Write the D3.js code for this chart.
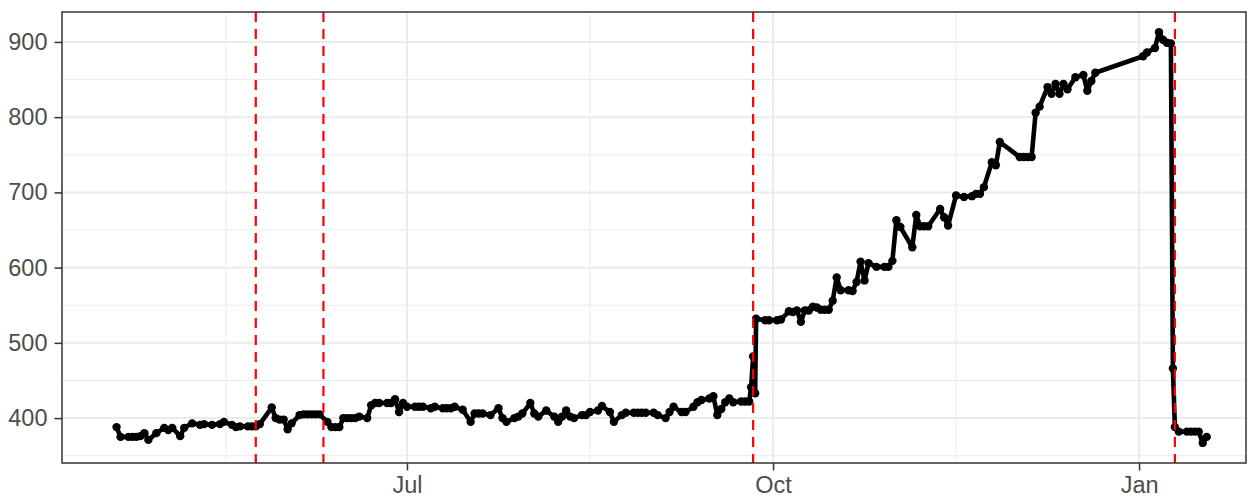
<!DOCTYPE html>
<html>
<head>
<meta charset="utf-8">
<script src="https://cdn.jsdelivr.net/npm/d3@7"></script>
<style>
  html, body { margin: 0; padding: 0; background: #ffffff; }
  svg { display: block; }
  text { font-family: "Liberation Sans", Arial, Helvetica, sans-serif; }
</style>
</head>
<body>
<svg id="chart" width="1258" height="501"></svg>
<script>
// ---- data ----
const dates = [
  "2019-04-19","2019-04-20","2019-04-22","2019-04-23","2019-04-24","2019-04-25","2019-04-26","2019-04-27","2019-04-29",
  "2019-05-01","2019-05-02","2019-05-03","2019-05-05","2019-05-06","2019-05-08","2019-05-10","2019-05-11","2019-05-13",
  "2019-05-15","2019-05-16","2019-05-18","2019-05-19","2019-05-20","2019-05-22","2019-05-23","2019-05-24","2019-05-25",
  "2019-05-28","2019-05-29","2019-05-30","2019-05-31","2019-06-01","2019-06-02","2019-06-04","2019-06-05","2019-06-06",
  "2019-06-07","2019-06-08","2019-06-09","2019-06-11","2019-06-12","2019-06-13","2019-06-14","2019-06-15","2019-06-16",
  "2019-06-17","2019-06-18","2019-06-19","2019-06-21","2019-06-22","2019-06-23","2019-06-24","2019-06-26","2019-06-27",
  "2019-06-28","2019-06-29","2019-06-30","2019-07-01","2019-07-03","2019-07-04","2019-07-05","2019-07-07","2019-07-08",
  "2019-07-10","2019-07-11","2019-07-12","2019-07-13","2019-07-15","2019-07-17","2019-07-18","2019-07-19","2019-07-20",
  "2019-07-22","2019-07-24","2019-07-25","2019-07-26","2019-07-28","2019-07-29","2019-07-30","2019-08-01","2019-08-02",
  "2019-08-03","2019-08-05","2019-08-07","2019-08-08","2019-08-09","2019-08-10","2019-08-11","2019-08-12","2019-08-14",
  "2019-08-15","2019-08-16","2019-08-18","2019-08-19","2019-08-21","2019-08-22","2019-08-24","2019-08-25","2019-08-27",
  "2019-08-28","2019-08-29","2019-08-30","2019-09-01","2019-09-02","2019-09-04","2019-09-05","2019-09-06","2019-09-08",
  "2019-09-09","2019-09-11","2019-09-12","2019-09-13","2019-09-15","2019-09-16","2019-09-17","2019-09-18","2019-09-19",
  "2019-09-20","2019-09-21","2019-09-23","2019-09-24","2019-09-25","2019-09-25T12:00","2019-09-26","2019-09-26T12:00",
  "2019-09-26T18:00","2019-09-29","2019-09-30","2019-10-02","2019-10-03","2019-10-05","2019-10-06","2019-10-07","2019-10-08",
  "2019-10-09","2019-10-10","2019-10-11","2019-10-12","2019-10-13","2019-10-14","2019-10-15","2019-10-16","2019-10-17",
  "2019-10-18","2019-10-20","2019-10-21","2019-10-22","2019-10-23","2019-10-24","2019-10-25","2019-10-27","2019-10-29",
  "2019-10-30","2019-10-31","2019-11-01","2019-11-02","2019-11-05","2019-11-06","2019-11-07","2019-11-08","2019-11-09",
  "2019-11-12","2019-11-13","2019-11-14","2019-11-16","2019-11-18","2019-11-20","2019-11-21","2019-11-22","2019-11-23",
  "2019-11-25","2019-11-26","2019-11-27","2019-12-02","2019-12-03","2019-12-04","2019-12-05","2019-12-06","2019-12-07",
  "2019-12-09","2019-12-10","2019-12-11","2019-12-12","2019-12-13","2019-12-14","2019-12-16","2019-12-18","2019-12-19",
  "2019-12-20","2019-12-21","2020-01-02","2020-01-03","2020-01-05","2020-01-06","2020-01-07","2020-01-08","2020-01-09",
  "2020-01-09T12:00","2020-01-10","2020-01-11","2020-01-13","2020-01-14","2020-01-15","2020-01-16","2020-01-17","2020-01-18"
];
const values = [
  388,375,375,375,375,376,380,371,380,
  387,384,387,376,387,393,391,392,391,
  392,395,391,388,389,389,389,389,392,
  414,400,398,398,385,393,404,405,405,
  405,405,405,395,388,388,388,400,400,
  400,400,402,400,417,420,420,420,420,
  425,408,420,415,415,415,415,413,415,
  413,413,413,415,411,395,406,406,406,
  404,413,400,395,400,402,406,420,406,
  402,410,402,395,402,410,402,400,404,
  404,408,410,416,408,395,404,407,407,
  407,407,407,407,404,400,408,415,408,
  408,415,421,424,426,429,404,412,421,
  426,421,422,422,422,441,482,433,
  532,530,530,530,531,542,541,543,528,
  543,543,548,547,544,544,544,556,587,
  570,570,569,581,608,583,606,601,601,
  601,609,663,654,627,670,655,655,655,
  678,667,656,696,694,695,698,698,707,
  740,736,767,747,747,747,747,806,814,
  840,831,844,831,844,837,853,856,835,
  848,859,881,886,892,913,903,899,898,
  466,388,382,382,382,382,382,367,375
];
const eventDates = ["2019-05-24","2019-06-10","2019-09-26","2020-01-10"];
const xTickDates = ["2019-07-01","2019-10-01","2020-01-01"];
const xTickLabels = ["Jul","Oct","Jan"];
const xMinorDates = ["2019-05-16T12:00","2019-08-16","2019-11-16"];
const yTicks = [400,500,600,700,800,900];
const yMinor = [350,450,550,650,750,850];
const xDomainDates = ["2019-04-05T07:00","2020-01-27T21:00"];
const yDomain = [340.3, 939.8];

// ---- setup ----
const pD = d3.utcParse("%Y-%m-%d"), pT = d3.utcParse("%Y-%m-%dT%H:%M");
const parse = s => s.includes("T") ? pT(s) : pD(s);
const data = dates.map((d, i) => ({ date: parse(d), value: values[i] }));

const panel = { left: 62, right: 1246, top: 12, bottom: 463 };
const x = d3.scaleUtc().domain(xDomainDates.map(parse)).range([panel.left, panel.right]);
const y = d3.scaleLinear().domain(yDomain).range([panel.bottom, panel.top]);

const svg = d3.select("#chart");
const grid = "#EBEBEB";

// minor grid
svg.append("g").selectAll("line.ymin").data(yMinor).join("line")
  .attr("x1", panel.left).attr("x2", panel.right)
  .attr("y1", d => y(d)).attr("y2", d => y(d))
  .attr("stroke", grid).attr("stroke-width", 1);
svg.append("g").selectAll("line.xmin").data(xMinorDates.map(parse)).join("line")
  .attr("y1", panel.top).attr("y2", panel.bottom)
  .attr("x1", d => x(d)).attr("x2", d => x(d))
  .attr("stroke", grid).attr("stroke-width", 1);
// major grid
svg.append("g").selectAll("line").data(yTicks).join("line")
  .attr("x1", panel.left).attr("x2", panel.right)
  .attr("y1", d => y(d)).attr("y2", d => y(d))
  .attr("stroke", grid).attr("stroke-width", 2);
svg.append("g").selectAll("line").data(xTickDates.map(parse)).join("line")
  .attr("y1", panel.top).attr("y2", panel.bottom)
  .attr("x1", d => x(d)).attr("x2", d => x(d))
  .attr("stroke", grid).attr("stroke-width", 2);

// line + points
const line = d3.line().x(d => x(d.date)).y(d => y(d.value));
svg.append("path").datum(data)
  .attr("d", line).attr("fill", "none")
  .attr("stroke", "#000").attr("stroke-width", 4.6).attr("stroke-linejoin", "round");
svg.append("g").selectAll("circle").data(data).join("circle")
  .attr("cx", d => x(d.date)).attr("cy", d => y(d.value)).attr("r", 4.2).attr("fill", "#000");

// event lines
svg.append("g").selectAll("line").data(eventDates.map(parse)).join("line")
  .attr("y1", panel.top).attr("y2", panel.bottom)
  .attr("x1", d => x(d)).attr("x2", d => x(d))
  .attr("stroke", "#FF0000").attr("stroke-width", 2.2).attr("stroke-dasharray", "10,7");

// panel border
svg.append("rect")
  .attr("x", panel.left).attr("y", panel.top)
  .attr("width", panel.right - panel.left).attr("height", panel.bottom - panel.top)
  .attr("fill", "none").attr("stroke", "#333333").attr("stroke-width", 1.5);

// axes
const yAxis = d3.axisLeft(y).tickValues(yTicks).tickSize(7.5).tickPadding(7);
const gy = svg.append("g").attr("transform", `translate(${panel.left},0)`).call(yAxis);
const xAxis = d3.axisBottom(x).tickValues(xTickDates.map(parse))
  .tickFormat((d, i) => xTickLabels[i]).tickSize(7.5).tickPadding(6);
const gx = svg.append("g").attr("transform", `translate(0,${panel.bottom})`).call(xAxis);
[gx, gy].forEach(g => {
  g.select(".domain").remove();
  g.selectAll(".tick line").attr("stroke", "#333333").attr("stroke-width", 1.5);
  g.selectAll(".tick text").attr("fill", "#4D4D4D").attr("font-size", "23.5px")
    .attr("font-family", "'Liberation Sans', Arial, sans-serif");
});
</script>
</body>
</html>
